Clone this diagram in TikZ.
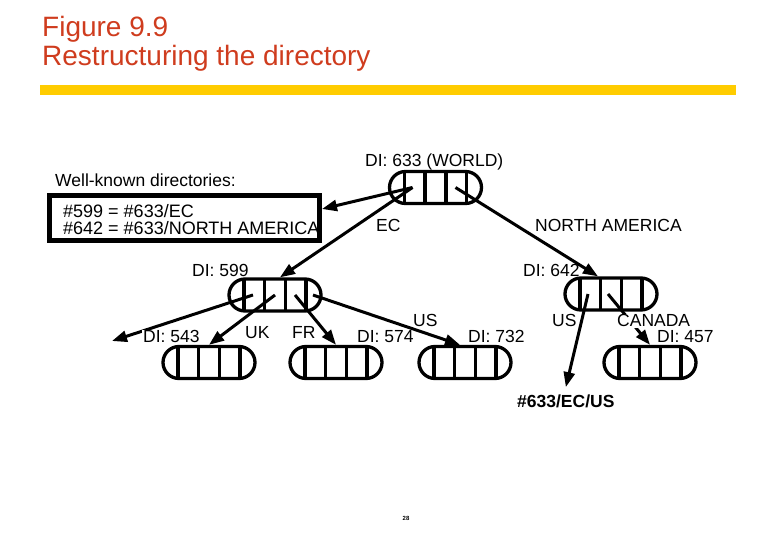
\documentclass[tikz,border=0pt]{standalone}
\usepackage{fontspec}
\setmainfont{Liberation Sans}
\usetikzlibrary{shapes.misc,arrows.meta}
\definecolor{titlered}{RGB}{207,60,30}
\definecolor{baryellow}{RGB}{255,204,0}
\begin{document}
\begin{tikzpicture}[x=1pt,y=-1pt,
  dirnode/.style={rounded rectangle,draw,line width=3.3pt,minimum width=92pt,minimum height=32pt,inner sep=0pt,
    path picture={\foreach \d in {-31,-10.5,10.5,31}
      \draw[line width=3.3pt] ([xshift=\d pt]path picture bounding box.north)--([xshift=\d pt]path picture bounding box.south);}},
  lab/.style={font=\fontsize{17.5}{20}\selectfont,inner sep=0pt,anchor=base west},
  ttl/.style={font=\fontsize{28}{30}\selectfont,text=titlered,inner sep=0pt,anchor=base west},
  ptr/.style={line width=3pt,-{Triangle[length=15pt,width=11pt]}}]
\useasboundingbox (0,0) rectangle (780,540);
\node[ttl] (fig) at (42,37) {Figure 9.9};
\node[ttl] (title) at (42,66) {Restructuring the directory};
\fill[baryellow] (40,85) rectangle (736,95);
\node[dirnode] (world) at (435.5,187.5) {};
\node[dirnode] (ec) at (275,295) {};
\node[dirnode] (na) at (611,294) {};
\node[dirnode] (uk) at (209,362.5) {};
\node[dirnode] (fr) at (336,362.5) {};
\node[dirnode] (us) at (465,362.5) {};
\node[dirnode] (canada) at (650,362.5) {};
\node[draw,line width=5pt,minimum width=270pt,minimum height=45pt,inner sep=0pt] (known) at (184.5,218) {};
\coordinate (out543) at (112,341);
\node[lab] (wk) at (55,187) {Well-known directories:};
\node[lab,font=\fontsize{18}{20}\selectfont] (wk1) at (63,218) {\#599 = \#633/EC};
\node[lab,font=\fontsize{18}{20}\selectfont] (wk2) at (63,235) {\#642 = \#633/NORTH AMERICA};
\node[lab,font=\fontsize{17.5}{20}\selectfont\bfseries] (ecus) at (517,407) {\#633/EC/US};
\draw[ptr] ([xshift=-23pt]world.center) -- ([yshift=9pt]known.east);
\draw[ptr] ([xshift=-23pt]world.center) -- ([xshift=5pt]ec.north);
\draw[ptr] ([xshift=20pt]world.center) -- ([xshift=-13pt]na.north);
\draw[ptr] ([xshift=-22pt]ec.center) -- (out543);
\draw[ptr] (ec.center) -- (uk.north);
\draw[ptr] ([xshift=20pt]ec.center) -- (fr.north);
\draw[ptr] ([xshift=38pt]ec.center) -- ([xshift=-5pt]us.north);
\draw[ptr] ([xshift=-23pt]na.center) -- ([yshift=7pt]ecus.north);
\draw[ptr] ([xshift=-3pt]na.center) -- (canada.north);
\node[lab] (l633) at (365,167) {DI: 633 (WORLD)};
\node[lab] (lec) at (376,232) {EC};
\node[lab] (lna) at (535,232) {NORTH AMERICA};
\node[lab] (l599) at (192,277) {DI: 599};
\node[lab] (l642) at (523,277) {DI: 642};
\node[lab,fill=white,inner sep=1pt] (l543) at (142,343) {DI: 543};
\node[lab] (luk) at (245,338) {UK};
\node[lab] (lfr) at (292,338) {FR};
\node[lab] (lus) at (413,327) {US};
\node[lab] (l574) at (357,343) {DI: 574};
\node[lab] (l732) at (468,343) {DI: 732};
\node[lab] (lus2) at (552,327) {US};
\node[lab,fill=white,inner sep=1pt] (lcan) at (616,327) {CANADA};
\node[lab] (l457) at (657,343) {DI: 457};
\node[font=\fontsize{6}{6}\selectfont\bfseries,inner sep=0pt] (page) at (406,518) {28};
\end{tikzpicture}
\end{document}
